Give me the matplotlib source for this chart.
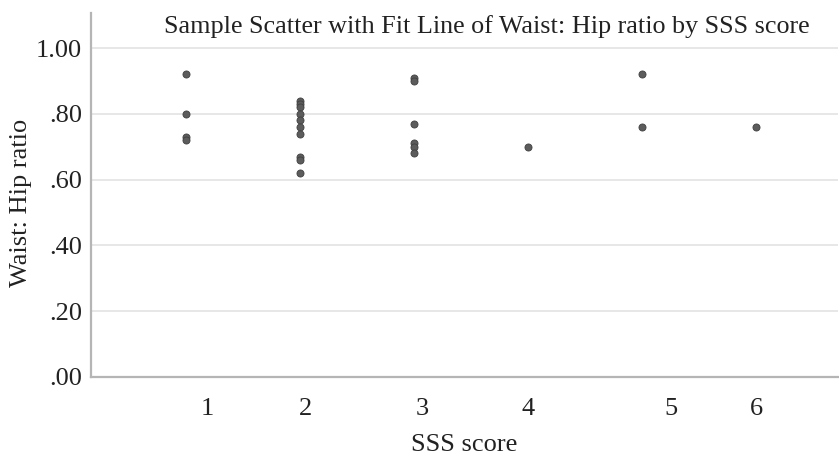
import matplotlib
matplotlib.use("Agg")
import matplotlib.pyplot as plt

plt.rcParams['font.family'] = ['Liberation Serif', 'DejaVu Serif']

# Data
sss_score = [1, 1, 1, 1,
             2, 2, 2, 2, 2, 2, 2, 2, 2, 2,
             3, 3, 3, 3, 3, 3,
             4,
             5, 5,
             6]
waist_hip = [0.92, 0.80, 0.73, 0.72,
             0.84, 0.83, 0.82, 0.80, 0.78, 0.76, 0.74, 0.67, 0.66, 0.62,
             0.91, 0.90, 0.77, 0.71, 0.70, 0.68,
             0.70,
             0.92, 0.76,
             0.76]

x_tick_pos = [1.19, 2.05, 3.07, 4.0, 5.25, 6.0]
x_tick_labels = ["1", "2", "3", "4", "5", "6"]
y_ticks = [0.0, 0.2, 0.4, 0.6, 0.8, 1.0]
y_tick_labels = [".00", ".20", ".40", ".60", ".80", "1.00"]

fig = plt.figure(figsize=(8.39, 4.58), dpi=100)
ax = fig.add_axes([0.108, 0.177, 0.891, 0.795])

ax.scatter(sss_score, waist_hip, s=26, color="#5c5c5c", edgecolors="#404040",
           linewidths=0.6, zorder=3)

ax.set_xlim(0.164, 6.72)
ax.set_ylim(0, 1.107)

ax.set_yticks(y_ticks)
ax.set_yticklabels(y_tick_labels)
ax.set_xticks(x_tick_pos)
ax.set_xticklabels(x_tick_labels)
ax.tick_params(axis='both', length=0, labelsize=19, colors="#222222")
ax.tick_params(axis='x', pad=15)
ax.tick_params(axis='y', pad=6)

ax.grid(axis='y', color="#e3e3e3", linewidth=1.2, zorder=0)
ax.set_axisbelow(True)

for side in ["top", "right"]:
    ax.spines[side].set_visible(False)
for side in ["left", "bottom"]:
    ax.spines[side].set_color("#b5b5b5")
    ax.spines[side].set_linewidth(1.6)

ax.set_xlabel("SSS score", fontsize=19, color="#222222", labelpad=10)
ax.set_ylabel("Waist: Hip ratio", fontsize=19, color="#222222")
ax.yaxis.set_label_coords(-0.0785, 0.478)

fig.text(0.58, 0.928, "Sample Scatter with Fit Line of Waist: Hip ratio by SSS score",
         ha="center", va="baseline", fontsize=18.8, color="#222222")

fig.savefig("out.png", dpi=100)
